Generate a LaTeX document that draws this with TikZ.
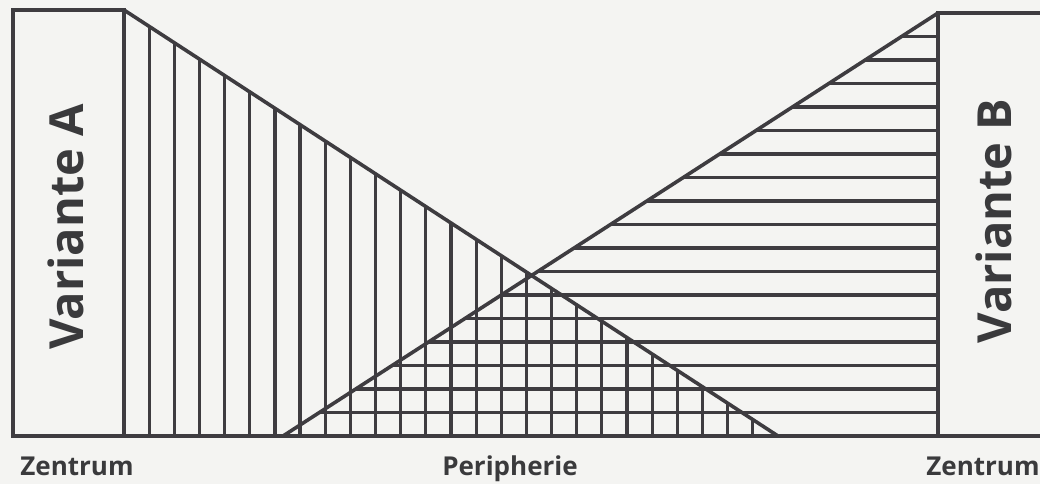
\documentclass[tikz,border=0pt]{standalone}
\usepackage{fontspec}
\setsansfont{Open Sans}
\usetikzlibrary{positioning}

\definecolor{paper}{RGB}{244,244,242}
\definecolor{inkgray}{RGB}{62,60,64}
\definecolor{textgray}{RGB}{58,58,60}

\tikzset{
  frame/.style={draw=inkgray, line width=3.6pt, line join=miter},
  hatch/.style={draw=inkgray, line width=3.2pt},
  varlabel/.style={font=\sffamily\bfseries\fontsize{47}{47}\selectfont, text=textgray, rotate=90, inner sep=0pt},
  footlabel/.style={font=\sffamily\bfseries\fontsize{26}{26}\selectfont, text=textgray, inner sep=0pt, anchor=base},
}

\begin{document}
\begin{tikzpicture}[x=1pt, y=-1pt]
  \useasboundingbox[fill=paper] (0,0) rectangle (1040,484);
  \clip (0,0) rectangle (1040,484);

  % Corners
  \coordinate (aTop) at (124,10);
  \coordinate (aFoot) at (124,436);
  \coordinate (aTip) at (778,436);
  \coordinate (bTop) at (938,13);
  \coordinate (bFoot) at (938,436);
  \coordinate (bTip) at (283,436);

  % Vertical hatching, variant A
  \begin{scope}
    \clip (aTop) -- (aFoot) -- (aTip) -- cycle;
    \foreach \k in {1,...,25}
      \draw[hatch] (124+\k*25.15, 0) -- (124+\k*25.15, 440);
  \end{scope}

  % Horizontal hatching, variant B
  \begin{scope}
    \clip (bTop) -- (bFoot) -- (bTip) -- cycle;
    \foreach \k in {1,...,17}
      \draw[hatch] (270, 436-\k*23.5) -- (945, 436-\k*23.5);
  \end{scope}

  % Blocks and wedges
  \draw[frame] (13,10) rectangle (aFoot);
  \draw[frame] (aTop) -- (aTip);
  \draw[frame] (bTop) -- (bTip);
  \draw[frame] (bFoot) |- (1060,13);
  \draw[frame] (13,436) -- (1060,436);

  % Labels
  \node[varlabel] (varA) at (66,227) {Variante A};
  \node[varlabel] (varB) at (994,221) {Variante B};
  \node[footlabel] (zenA) at (77,475) {Zentrum};
  \node[footlabel] (peri) at (510,475) {Peripherie};
  \node[footlabel] (zenB) at (983,475) {Zentrum};
\end{tikzpicture}
\end{document}
